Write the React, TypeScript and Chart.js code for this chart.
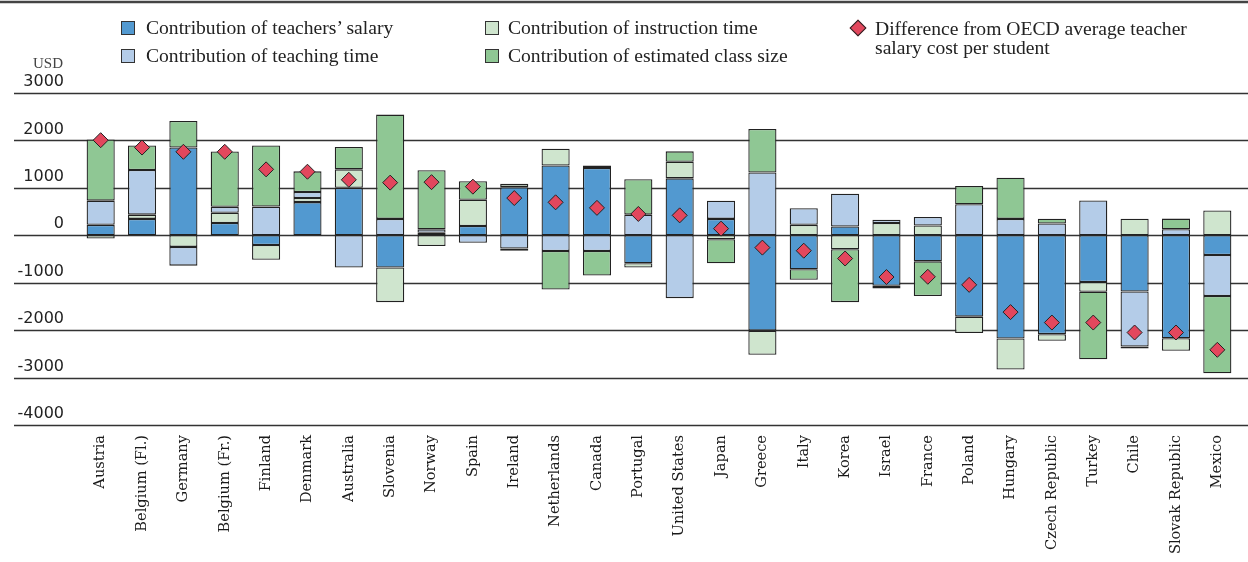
import React, { useEffect, useRef } from 'react';
import { Chart, registerables } from 'chart.js';

Chart.register(...registerables);

const countries = [
  'Austria', 'Belgium (Fl.)', 'Germany', 'Belgium (Fr.)', 'Finland', 'Denmark', 'Australia',
  'Slovenia', 'Norway', 'Spain', 'Ireland', 'Netherlands', 'Canada', 'Portugal', 'United States',
  'Japan', 'Greece', 'Italy', 'Korea', 'Israel', 'France', 'Poland', 'Hungary', 'Czech Republic',
  'Turkey', 'Chile', 'Slovak Republic', 'Mexico',
];

const salary = [220, 345, 1850, 260, -205, 700, 1000, -680, 55, 195, 1015, 1470, 1420, -590, 1200, 345, -2010, -715, 185, -1065, -550, -1715, -2175, -2085, -985, -1185, -2170, -415];
const instruction = [-70, 90, -245, 215, -310, 85, 390, -730, -225, 555, 70, 355, 50, -90, 350, -85, -510, 220, -295, 260, 205, -345, -655, -140, -205, 350, -265, 525];
const teaching = [510, 940, -395, 125, 605, 127, -680, 345, 70, -160, -280, -330, -330, 435, -1325, 385, 1325, 350, 690, 70, 183, 655, 345, 250, 735, -1160, 127, -865];
const classSize = [1290, 520, 560, 1165, 1290, 436, 470, 2200, 1245, 390, -45, -815, -520, 745, 220, -505, 915, -225, -1115, -55, -730, 385, 870, 100, -1425, -40, 225, -1630];
const difference = [2005, 1850, 1760, 1760, 1390, 1340, 1170, 1110, 1120, 1025, 785, 695, 578, 450, 420, 140, -260, -325, -490, -880, -875, -1045, -1620, -1840, -1840, -2050, -2050, -2415];

const yMin = -4000;
const yMax = 3000;
const yStep = 1000;

const C_SALARY = '#5299d0';
const C_TEACHING = '#b4cce8';
const C_INSTRUCTION = '#cfe5ce';
const C_CLASS = '#8fc794';
const C_DIFF = '#e2475d';
const C_EDGE = '#222222';

const fullGrid = {
  id: 'fullGrid',
  beforeDatasetsDraw(chart: any) {
    const { ctx, scales } = chart;
    const y = scales.y;
    ctx.save();
    ctx.strokeStyle = '#333333';
    ctx.lineWidth = 1.4;
    y.ticks.forEach((t: any) => {
      const py = Math.round(y.getPixelForValue(t.value)) + 0.5;
      ctx.beginPath();
      ctx.moveTo(14, py);
      ctx.lineTo(chart.width, py);
      ctx.stroke();
    });
    ctx.lineWidth = 2.5;
    ctx.strokeStyle = '#444444';
    ctx.beginPath();
    ctx.moveTo(0, 2);
    ctx.lineTo(chart.width, 2);
    ctx.stroke();
    ctx.restore();
  },
};

const barDs = (label: string, data: number[], color: string) => ({
  type: 'bar' as const,
  label,
  data,
  backgroundColor: color,
  borderColor: C_EDGE,
  borderWidth: 1.3,
  borderSkipped: false,
  categoryPercentage: 1,
  barPercentage: 0.68,
  order: 0,
});

const legendText: React.CSSProperties = {
  position: 'absolute',
  fontFamily: '"Liberation Serif", serif',
  fontSize: 19.6,
  color: '#222',
  whiteSpace: 'nowrap',
  lineHeight: '19px',
};

function Box({ x, y, color }: { x: number; y: number; color: string }) {
  return (
    <div
      style={{
        position: 'absolute',
        left: x,
        top: y - 7,
        width: 12,
        height: 12,
        background: color,
        border: '1px solid #333',
      }}
    />
  );
}

export default function App() {
  const ref = useRef<HTMLCanvasElement>(null);

  useEffect(() => {
    if (!ref.current) return;
    const chart = new Chart(ref.current, {
      type: 'bar',
      data: {
        labels: countries,
        datasets: [
          barDs('Contribution of teachers’ salary', salary, C_SALARY),
          barDs('Contribution of instruction time', instruction, C_INSTRUCTION),
          barDs('Contribution of teaching time', teaching, C_TEACHING),
          barDs('Contribution of estimated class size', classSize, C_CLASS),
          {
            type: 'line' as const,
            label: 'Difference from OECD average teacher salary cost per student',
            data: difference,
            showLine: false,
            pointStyle: 'rectRot',
            pointRadius: 7.5,
            pointBackgroundColor: C_DIFF,
            pointBorderColor: C_EDGE,
            pointBorderWidth: 1,
            stack: 'diff',
            order: -1,
          } as any,
        ],
      },
      options: {
        responsive: false,
        animation: false,
        devicePixelRatio: 1,
        layout: { padding: { left: 14, right: 10, top: 93, bottom: 0 } },
        plugins: { legend: { display: false }, tooltip: { enabled: false } },
        scales: {
          x: {
            stacked: true,
            grid: { display: false, drawTicks: false },
            border: { display: false },
            ticks: {
              autoSkip: false,
              maxRotation: 90,
              minRotation: 90,
              padding: 10,
              color: '#1a1a1a',
              font: { family: '"DejaVu Serif", serif', size: 14.6 },
            },
            afterFit: (s: any) => {
              s.height = 137;
            },
          },
          y: {
            stacked: true,
            min: yMin,
            max: yMax,
            ticks: {
              stepSize: yStep,
              padding: 16,
              labelOffset: -11,
              color: '#222',
              font: { family: '"DejaVu Sans", sans-serif', size: 16 },
              callback: (v: any) => String(v),
            },
            grid: { display: false, drawTicks: false },
            border: { display: false },
            afterFit: (s: any) => {
              s.width = 66;
            },
          },
        },
      },
      plugins: [fullGrid],
    });
    return () => chart.destroy();
  }, []);

  return (
    <div style={{ position: 'absolute', left: 0, top: 0, width: 1248, height: 562, background: '#fff' }}>
      <canvas ref={ref} width={1248} height={562} style={{ position: 'absolute', left: 0, top: 0 }} />
      <Box x={121} y={28} color={C_SALARY} />
      <div style={{ ...legendText, left: 146, top: 18 }}>Contribution of teachers’ salary</div>
      <Box x={121} y={56} color={C_TEACHING} />
      <div style={{ ...legendText, left: 146, top: 46 }}>Contribution of teaching time</div>
      <Box x={485} y={28} color={C_INSTRUCTION} />
      <div style={{ ...legendText, left: 508, top: 18 }}>Contribution of instruction time</div>
      <Box x={485} y={56} color={C_CLASS} />
      <div style={{ ...legendText, left: 508, top: 46 }}>Contribution of estimated class size</div>
      <div
        style={{
          position: 'absolute',
          left: 852,
          top: 22,
          width: 10,
          height: 10,
          background: C_DIFF,
          border: '1px solid #222',
          transform: 'rotate(45deg)',
        }}
      />
      <div style={{ ...legendText, left: 875, top: 19 }}>
        Difference from OECD average teacher
        <br />
        salary cost per student
      </div>
      <div
        style={{
          position: 'absolute',
          left: 33,
          top: 55,
          fontFamily: '"Liberation Serif", serif',
          fontSize: 15,
          color: '#444',
        }}
      >
        USD
      </div>
    </div>
  );
}
